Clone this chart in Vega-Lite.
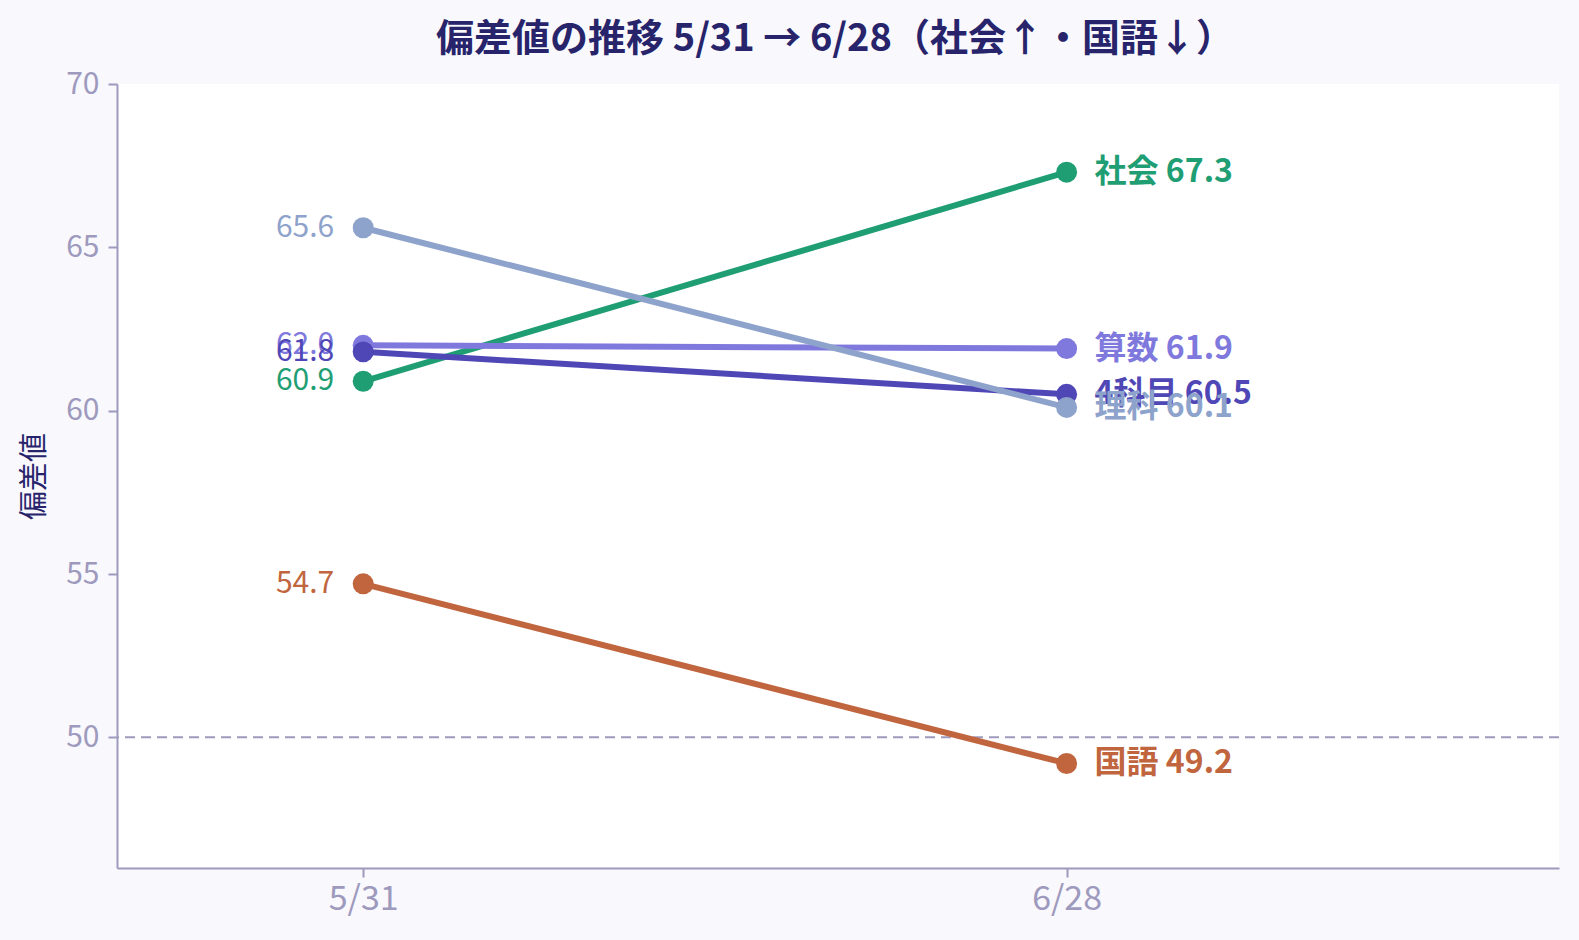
{
  "$schema": "https://vega.github.io/schema/vega-lite/v6.json",
  "width": 1442,
  "height": 784,
  "autosize": {"type": "none"},
  "padding": {"left": 117, "top": 84, "right": 20, "bottom": 72},
  "background": "#f8f8fd",
  "config": {
    "font": "Noto Sans CJK JP",
    "view": {"fill": "#ffffff", "stroke": null}
  },
  "title": {
    "text": "偏差値の推移 5/31 → 6/28（社会↑・国語↓）",
    "fontSize": 38,
    "fontWeight": "bold",
    "color": "#27246b",
    "font": "Noto Sans CJK JP",
    "anchor": "middle",
    "offset": 10,
    "dx": -3
  },
  "data": {
    "values": [
      {"subject": "国語", "t": 0, "value": 54.7, "label": "国語 49.2"},
      {"subject": "国語", "t": 1, "value": 49.2, "label": "国語 49.2"},
      {"subject": "社会", "t": 0, "value": 60.9, "label": "社会 67.3"},
      {"subject": "社会", "t": 1, "value": 67.3, "label": "社会 67.3"},
      {"subject": "算数", "t": 0, "value": 62.0, "label": "算数 61.9"},
      {"subject": "算数", "t": 1, "value": 61.9, "label": "算数 61.9"},
      {"subject": "4科目", "t": 0, "value": 61.8, "label": "4科目 60.5"},
      {"subject": "4科目", "t": 1, "value": 60.5, "label": "4科目 60.5"},
      {"subject": "理科", "t": 0, "value": 65.6, "label": "理科 60.1"},
      {"subject": "理科", "t": 1, "value": 60.1, "label": "理科 60.1"}
    ]
  },
  "encoding": {
    "x": {
      "field": "t",
      "type": "quantitative",
      "scale": {"domain": [-0.35, 1.7], "nice": false, "zero": false},
      "axis": {
        "values": [0, 1],
        "labelExpr": "datum.value == 0 ? '5/31' : '6/28'",
        "title": null,
        "grid": false,
        "domainColor": "#9e9abd",
        "domainWidth": 2,
        "tickColor": "#9e9abd",
        "tickWidth": 2,
        "tickSize": 9,
        "labelColor": "#9e9abd",
        "labelFontSize": 34,
        "labelPadding": 5,
        "labelFont": "Noto Sans CJK JP"
      }
    },
    "y": {
      "field": "value",
      "type": "quantitative",
      "scale": {"domain": [46, 70], "nice": false, "zero": false},
      "axis": {
        "values": [50, 55, 60, 65, 70],
        "title": "偏差値",
        "titleFontSize": 29,
        "titleFontWeight": "normal",
        "titleColor": "#27246b",
        "titlePadding": 16,
        "grid": false,
        "domainColor": "#9e9abd",
        "domainWidth": 2,
        "tickColor": "#9e9abd",
        "tickWidth": 2,
        "tickSize": 9,
        "labelColor": "#9e9abd",
        "labelFontSize": 30,
        "labelPadding": 9,
        "labelFont": "Noto Sans CJK JP"
      }
    },
    "color": {
      "field": "subject",
      "type": "nominal",
      "scale": {
        "domain": ["国語", "社会", "算数", "4科目", "理科"],
        "range": ["#c0653e", "#1f9e74", "#8079dd", "#4f47b6", "#8ea3cb"]
      },
      "legend": null
    }
  },
  "layer": [
    {
      "mark": {"type": "rule", "strokeDash": [10, 6], "strokeWidth": 2, "color": "#9e9abd"},
      "data": {"values": [{"y": 50}]},
      "encoding": {"y": {"field": "y", "type": "quantitative"}, "x": null, "color": null}
    },
    {
      "mark": {"type": "line", "strokeWidth": 6},
      "encoding": {"order": {"field": "t", "type": "quantitative"}}
    },
    {
      "mark": {"type": "circle", "size": 440, "opacity": 1}
    },
    {
      "transform": [{"filter": "datum.t == 0"}],
      "mark": {"type": "text", "align": "right", "baseline": "middle", "dx": -29, "fontSize": 30},
      "encoding": {"text": {"field": "value", "type": "quantitative", "format": ".1f"}}
    },
    {
      "transform": [{"filter": "datum.t == 1"}],
      "mark": {"type": "text", "align": "left", "baseline": "middle", "dx": 28, "fontSize": 32, "fontWeight": "bold"},
      "encoding": {"text": {"field": "label", "type": "nominal"}}
    }
  ]
}
